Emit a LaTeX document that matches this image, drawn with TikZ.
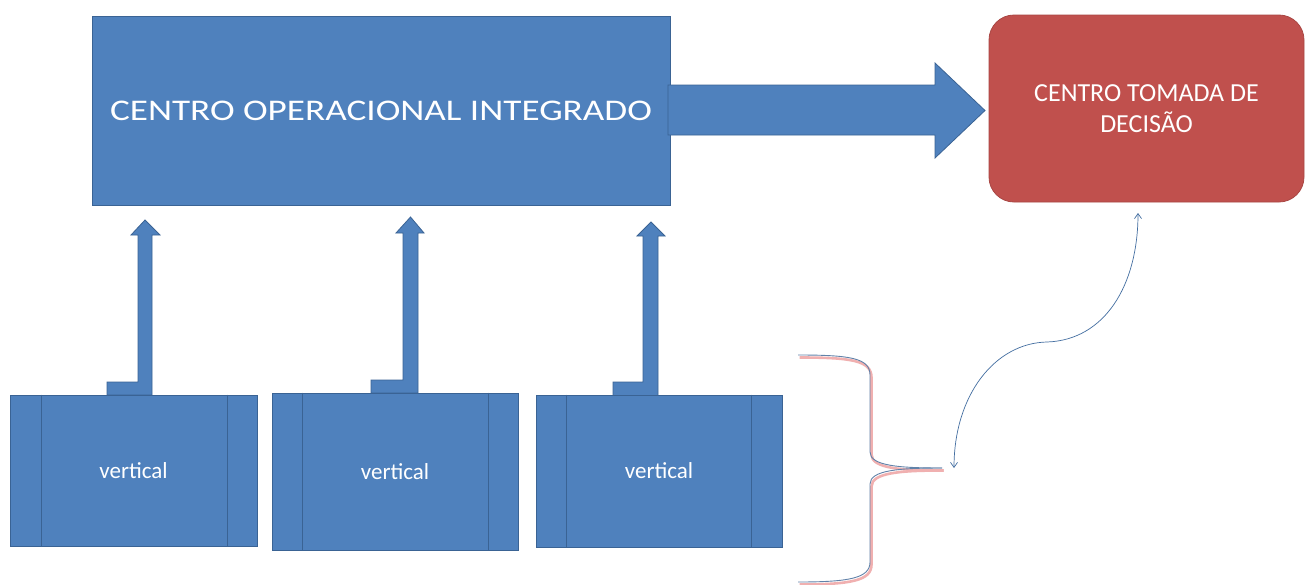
\documentclass[tikz,border=0pt]{standalone}
\usepackage{fontspec}
\setmainfont{Carlito}
\usetikzlibrary{arrows.meta}
\definecolor{bfill}{HTML}{4F81BD}
\definecolor{bline}{HTML}{3A6394}
\definecolor{rfill}{HTML}{C0504D}
\definecolor{rline}{HTML}{A94643}
\definecolor{shade}{HTML}{F0B0B0}
\tikzset{
  bluebox/.style={rectangle,fill=bfill,draw=bline,line width=1pt,inner sep=0pt},
  vbox/.style={bluebox,minimum width=246pt,text=white,font=\fontsize{23}{27}\selectfont},
  bigarrow/.style={fill=bfill,draw=bline,line width=0.8pt,line join=miter},
  braceline/.style={draw=bline!80!white,line width=0.9pt},
  braceshadow/.style={draw=shade,line width=2.6pt},
  linkline/.style={draw=bfill!85!black,line width=0.7pt,{Straight Barb[length=5pt,width=7pt]}-{Straight Barb[length=5pt,width=7pt]}}
}
\begin{document}
\begin{tikzpicture}[x=1pt,y=-1pt]
\fill[white] (0,0) rectangle (1305,584);
\useasboundingbox (0,0) rectangle (1305,584);
% main box
\node[bluebox,minimum width=578pt,minimum height=189pt] (coi) at (381,110.5) {};
\node[text=white,font=\fontsize{30}{36}\selectfont] (coit) at (381,111) {\scalebox{1.24}[1]{CENTRO OPERACIONAL INTEGRADO}};
% big arrow
\draw[bigarrow] (668,85) -- (935,85) -- (935,63) -- (985,110.5) -- (935,158) -- (935,135) -- (668,135) -- cycle;
% decision box
\node[rectangle,rounded corners=25pt,fill=rfill,draw=rline,line width=0.8pt,minimum width=315pt,minimum height=187pt,
      text=white,align=center,font=\fontsize{26}{31}\selectfont] (ctd) at (1146.5,108.5) {CENTRO TOMADA DE\\DECISÃO};
% bent-up arrows
\draw[bigarrow] (107,395) -- (107,382) -- (138,382) -- (138,235) -- (131,235) -- (145,220) -- (160,235) -- (152,235) -- (152,395) -- cycle;
\draw[bigarrow] (371,393) -- (371,380) -- (403,380) -- (403,233) -- (396,233) -- (410.5,217) -- (424,233) -- (418,233) -- (418,393) -- cycle;
\draw[bigarrow] (613,396) -- (613,382) -- (643,382) -- (643,236) -- (637,236) -- (651,222) -- (665,236) -- (658,236) -- (658,396) -- cycle;
% vertical boxes
\node[vbox,minimum width=247pt,minimum height=151pt] (v1) at (133.5,470.5) {vertical};
\node[vbox,minimum height=157pt] (v2) at (395,471.5) {vertical};
\node[vbox,minimum height=152pt] (v3) at (659,471) {vertical};
\foreach \v/\a/\b in {v1/32/30, v2/31/30, v3/31/31}{
  \draw[bline,line width=1pt] ([xshift=\a pt]\v.north west) -- ([xshift=\a pt]\v.south west);
  \draw[bline,line width=1pt] ([xshift=-\b pt]\v.north east) -- ([xshift=-\b pt]\v.south east);
}
% brace
\coordinate (btip) at (942,468);
\begin{scope}[shift={(1.5,2.5)}]
\draw[braceshadow] (798,355) .. controls (850,355) and (870,358) .. (870,375) -- (870,452) .. controls (870,466) and (900,468) .. (942,468);
\draw[braceshadow] (942,468) .. controls (900,468) and (870,470) .. (870,484) -- (870,562) .. controls (870,578) and (850,582) .. (798,582);
\end{scope}
\draw[braceline] (798,355) .. controls (850,355) and (870,358) .. (870,375) -- (870,452) .. controls (870,466) and (900,468) .. (btip);
\draw[braceline] (btip) .. controls (900,468) and (870,470) .. (870,484) -- (870,562) .. controls (870,578) and (850,582) .. (798,582);
% curved double arrow
\coordinate (lowend) at (954,468);
\coordinate (highend) at (1138,213);
\draw[linkline] (lowend) .. controls (954,395) and (995,343) .. (1047,342) .. controls (1105,340) and (1138,285) .. (highend);
\end{tikzpicture}
\end{document}
